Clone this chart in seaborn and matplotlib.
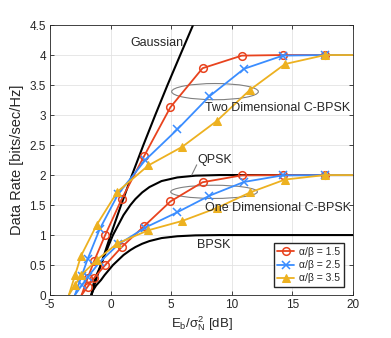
import numpy as np
import pandas as pd
import matplotlib
matplotlib.use('Agg')
import matplotlib.pyplot as plt
import seaborn as sns
from matplotlib.patches import Ellipse

# Eb/sigma_N^2 [dB] and rates
gauss_db = [-1.59, -1.21, -0.82, 0.0, 0.86, 1.76, 2.70, 3.68, 4.69, 5.74, 6.8, 7.04]
gauss_rate = [0, 0.25, 0.5, 1, 1.5, 2, 2.5, 3, 3.5, 4, 4.5, 4.6]

bpsk_db = [-1.59, -1.45, -1.2, -0.8, -0.5, 0.19, 1.06, 1.63, 2.04, 2.6, 3.2, 4.2, 5.5, 7, 9, 20]
bpsk_rate = [0, 0.08, 0.16, 0.25, 0.333, 0.5, 0.667, 0.75, 0.8, 0.855, 0.9, 0.95, 0.98, 0.995, 1.0, 1.0]
qpsk_rate = [0, 0.16, 0.32, 0.5, 0.667, 1.0, 1.333, 1.5, 1.6, 1.71, 1.8, 1.9, 1.96, 1.99, 2.0, 2.0]

red_db = [-2.4, -1.9, -1.38, -0.45, 0.91, 2.77, 4.93, 7.58, 10.82, 14.23, 17.7, 20]
red_2d = [0, 0.28, 0.56, 1.0, 1.6, 2.32, 3.13, 3.78, 3.99, 4.0, 4.0, 4.0]
red_1d = [0, 0.14, 0.28, 0.5, 0.8, 1.15, 1.56, 1.88, 1.995, 2.0, 2.0, 2.0]

blue_db = [-2.95, -2.39, -1.9, -0.9, 0.64, 2.86, 5.5, 8.14, 11.0, 14.2, 17.7, 20]
blue_2d = [0, 0.32, 0.6, 1.1, 1.69, 2.25, 2.76, 3.31, 3.77, 3.99, 4.0, 4.0]
blue_1d = [0, 0.16, 0.3, 0.55, 0.845, 1.125, 1.38, 1.655, 1.885, 1.995, 2.0, 2.0]

yellow_db = [-3.45, -2.94, -2.44, -1.15, 0.55, 3.11, 5.9, 8.75, 11.5, 14.39, 17.7, 20]
yellow_2d = [0, 0.33, 0.655, 1.17, 1.72, 2.16, 2.47, 2.9, 3.42, 3.85, 4.0, 4.0]
yellow_1d = [0, 0.167, 0.33, 0.585, 0.86, 1.08, 1.235, 1.45, 1.71, 1.925, 2.0, 2.0]

legend_labels = ['α/β = 1.5', 'α/β = 2.5', 'α/β = 3.5']

sns.set_theme(style='whitegrid')
plt.rcParams['font.family'] = ['Liberation Sans', 'DejaVu Sans']
plt.rcParams['mathtext.fontset'] = 'custom'
plt.rcParams['mathtext.rm'] = 'Liberation Sans'
plt.rcParams['mathtext.it'] = 'Liberation Sans:italic'
plt.rcParams['axes.unicode_minus'] = False

fig = plt.figure(figsize=(3.91, 3.38), dpi=100)
ax = fig.add_axes([0.128, 0.127, 0.775, 0.799])

# reference curves
for xs, ys in [(gauss_db, gauss_rate), (bpsk_db, bpsk_rate), (bpsk_db, qpsk_rate)]:
    sns.lineplot(x=xs, y=ys, color='black', lw=1.5, sort=False, ax=ax)

# C-BPSK curves
styles = [
    ('#E8431E', 'o', dict(markerfacecolor='none', markeredgewidth=1.1, markersize=5.5)),
    ('#3A8DFF', 'x', dict(markeredgewidth=1.1, markersize=5.5)),
    ('#EDB120', '^', dict(markersize=6)),
]
series = [(red_db, red_2d, red_1d), (blue_db, blue_2d, blue_1d), (yellow_db, yellow_2d, yellow_1d)]
handles = []
for (xs, y2, y1), (col, mk, kw), lab in zip(series, styles, legend_labels):
    idx = list(range(1, len(xs) - 1))
    for ys in (y2, y1):
        sns.lineplot(x=xs, y=ys, color=col, lw=1.3, marker=mk, markevery=idx,
                     markeredgecolor=col, sort=False, ax=ax, **kw)
    handles.append(ax.lines[-1])

ax.add_patch(Ellipse((8.61, 3.39), 7.15, 0.27, fill=False, edgecolor='#808080', lw=0.8))
ax.add_patch(Ellipse((8.53, 1.72), 7.15, 0.22, fill=False, edgecolor='#808080', lw=0.8))
ax.plot([6.69, 7.1], [2.0, 2.17], color='#808080', lw=0.8)

fs = 9
ax.text(1.6, 4.2, 'Gaussian', fontsize=fs, va='center')
ax.text(7.8, 3.12, 'Two Dimensional C-BPSK', fontsize=fs, va='center')
ax.text(7.13, 2.25, 'QPSK', fontsize=fs, va='center')
ax.text(7.8, 1.455, 'One Dimensional C-BPSK', fontsize=fs, va='center')
ax.text(7.13, 0.83, 'BPSK', fontsize=fs, va='center')

ax.set_xlim(-5, 20)
ax.set_ylim(0, 4.5)
ax.set_xticks([-5, 0, 5, 10, 15, 20])
ax.set_yticks(np.arange(0, 4.51, 0.5))
ax.set_yticklabels(['0', '0.5', '1', '1.5', '2', '2.5', '3', '3.5', '4', '4.5'])
ax.grid(True, color='#e3e3e3', lw=0.6)
ax.tick_params(direction='in', length=3, width=0.6, top=True, right=True,
               bottom=True, left=True, labelsize=8.5, colors='#262626', pad=3)
for sp in ax.spines.values():
    sp.set_color('#262626')
    sp.set_linewidth(0.6)

ax.set_xlabel('E$_\\mathrm{b}$/σ$_\\mathrm{N}^\\mathrm{2}$ [dB]', fontsize=9.5, color='#262626', labelpad=2)
ax.set_ylabel('Data Rate [bits/sec/Hz]', fontsize=10.5, color='#262626', labelpad=4)

ax.legend(handles, legend_labels, loc='lower right', bbox_to_anchor=(0.97, 0.03),
          borderaxespad=0, fontsize=7.5, frameon=True, fancybox=False,
          edgecolor='#262626', framealpha=1, handlelength=1.6, labelspacing=0.3,
          borderpad=0.35, handletextpad=0.5)

fig.savefig('out.png', dpi=100)
